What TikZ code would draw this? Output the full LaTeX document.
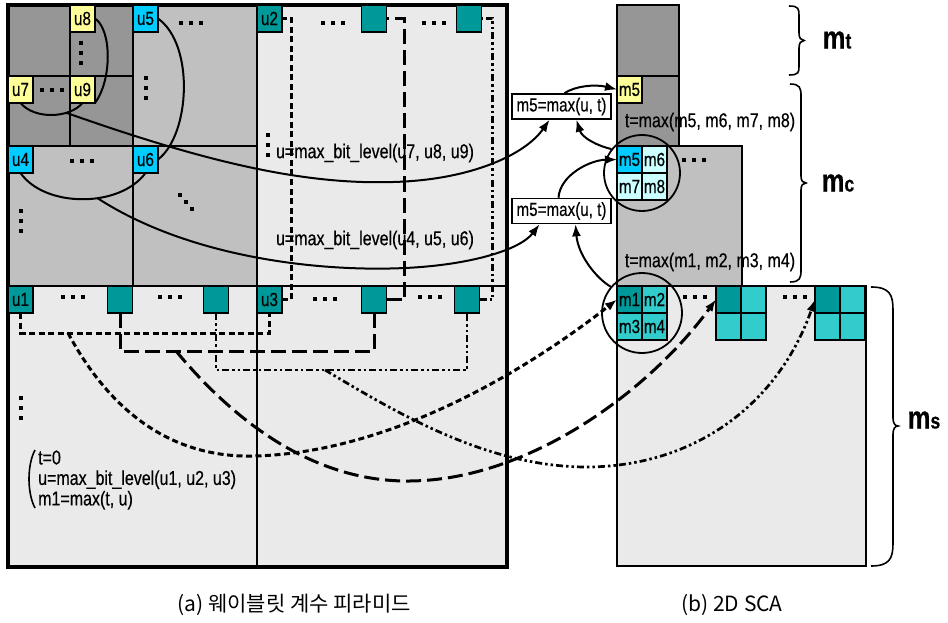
\documentclass[tikz,border=0pt]{standalone}
\usepackage{fontspec}
\setmainfont{Liberation Sans}[FakeStretch=0.8,FakeBold=0.4]
\newfontfamily\krfont{Noto Sans CJK KR}
\usetikzlibrary{arrows.meta,calc}
\definecolor{dg}{HTML}{969696}
\definecolor{lg}{HTML}{C0C0C0}
\definecolor{vlg}{HTML}{EAEAEA}
\definecolor{tealA}{HTML}{009999}
\definecolor{tealB}{HTML}{33CCCC}
\definecolor{cyA}{HTML}{00CCFF}
\definecolor{cyB}{HTML}{CCFFFF}
\definecolor{yl}{HTML}{FFFF99}
\begin{document}
\begin{tikzpicture}[x=1pt,y=-1pt,
  cell/.style={draw=black,line width=1.4pt,minimum width=25pt,minimum height=27pt,inner sep=0pt,outer sep=0pt,font=\fontsize{19}{19}\selectfont},
  ycell/.style={cell,fill=yl},
  ccell/.style={cell,fill=cyA},
  lccell/.style={cell,fill=cyB},
  tcell/.style={cell,fill=tealA},
  ltcell/.style={cell,fill=tealB},
  lbl/.style={font=\fontsize{20}{20.5}\selectfont,inner sep=0pt},
  boxst/.style={draw=black,fill=white,line width=1.6pt,minimum width=99pt,minimum height=25pt,inner sep=0pt,font=\fontsize{19}{19}\selectfont},
  ring/.style={draw=black,line width=1.8pt,circle,inner sep=0pt},
  gridln/.style={line width=2pt},
  sdash/.style={line width=3pt,dash pattern=on 6pt off 3.5pt},
  ldash/.style={line width=3pt,dash pattern=on 15pt off 6pt},
  ddash/.style={line width=2.7pt,dash pattern=on 7pt off 3pt on 2.5pt off 3pt on 2.5pt off 3pt},
  conn/.style={line width=2pt},
  arr/.style={-{Latex[length=12pt,width=9pt]}},
  bigl/.style={font=\fontsize{32}{32}\selectfont\bfseries,inner sep=0pt},
  hd/.pic={\foreach \i in {-10,0,10} \fill (\i-2.3,-2.3) rectangle ++(4.6,4.6);},
  vd/.pic={\foreach \i in {-10,0,10} \fill (-2.3,\i-2.3) rectangle ++(4.6,4.6);},
  dd/.pic={\foreach \i in {-10,0,10} \fill (\i*0.6-2.3,\i*0.7-2.3) rectangle ++(4.6,4.6);},
]
\useasboundingbox (0,0) rectangle (948,623);
% ---------- left pyramid ----------
\fill[vlg] (257,5) rectangle (507,567);
\fill[vlg] (8,286) rectangle (257,567);
\fill[lg] (8,5) rectangle (257,286);
\fill[dg] (8,5) rectangle (133,146);
\draw[gridln] (257,5) -- (257,567);
\draw[gridln] (8,286) -- (507,286);
\draw[gridln] (133,5) -- (133,286);
\draw[gridln] (8,146) -- (257,146);
\draw[gridln] (70,5) -- (70,146);
\draw[gridln] (8,76) -- (133,76);
\draw[line width=3.8pt] (8,5) rectangle (507,567);
% cells
\node[ycell] (u8) at (82.5,18.5) {u8};
\node[ycell] (u7) at (20.5,89.5) {u7};
\node[ycell] (u9) at (82.5,89.5) {u9};
\node[ccell] (u5) at (145.5,18.5) {u5};
\node[ccell] (u4) at (20.5,159.5) {u4};
\node[ccell] (u6) at (145.5,159.5) {u6};
\node[tcell] (u2) at (269.5,18.5) {u2};
\node[tcell] (t2) at (374,18.5) {};
\node[tcell] (t3) at (469,18.5) {};
\node[tcell] (u1) at (20.5,299.5) {u1};
\node[tcell] (b1) at (120,299.5) {};
\node[tcell] (b2) at (216,299.5) {};
\node[tcell] (u3) at (269.5,299.5) {u3};
\node[tcell] (b3) at (374,299.5) {};
\node[tcell] (b4) at (467,299.5) {};
% dots
\pic at (52,90) {hd};
\pic at (81,53) {vd};
\pic at (191,23) {hd};
\pic at (146,88) {vd};
\pic at (82,161) {hd};
\pic at (21,221) {vd};
\pic at (186,202) {dd};
\pic at (333,23) {hd};
\pic at (434,23) {hd};
\pic at (268,145) {vd};
\pic at (73,297) {hd};
\pic at (170,297) {hd};
\pic at (325,299) {hd};
\pic at (430,297) {hd};
\pic at (21,408) {vd};
% texts
\node[lbl] (tx1) at (375,153) {u=max\_bit\_level(u7, u8, u9)};
\node[lbl] (tx2) at (375,240) {u=max\_bit\_level(u4, u5, u6)};
\node[lbl,anchor=west,align=left] (tx5) at (38,480) {t=0\\u=max\_bit\_level(u1, u2, u3)\\m1=max(t, u)};
\draw[line width=1.6pt] (35,450) .. controls (27,465) and (27,493) .. (35,508);
% ---------- right SCA ----------
\filldraw[fill=dg,draw=black,line width=1.6pt] (617,5) rectangle (679,146);
\draw[line width=1.6pt] (617,76) -- (679,76);
\filldraw[fill=lg,draw=black,line width=1.6pt] (617,146) rectangle (742,286);
\filldraw[fill=vlg,draw=black,line width=1.6pt] (617,286) rectangle (866,566);
\node[ycell] (m5t) at (629.5,89.5) {m5};
\node[ccell] (m5c) at (629.5,159.5) {m5};
\node[lccell] (m6) at (654.5,159.5) {m6};
\node[lccell] (m7) at (629.5,186.5) {m7};
\node[lccell] (m8) at (654.5,186.5) {m8};
\node[tcell] (m1) at (629.5,299.5) {m1};
\node[ltcell] (m2) at (654.5,299.5) {m2};
\node[ltcell] (m3) at (629.5,326.5) {m3};
\node[ltcell] (m4) at (654.5,326.5) {m4};
\node[tcell] (g2a) at (728.5,299.5) {};
\node[ltcell] (g2b) at (753.5,299.5) {};
\node[ltcell] (g2c) at (728.5,326.5) {};
\node[ltcell] (g2d) at (753.5,326.5) {};
\node[tcell] (g3a) at (827.5,299.5) {};
\node[ltcell] (g3b) at (852.5,299.5) {};
\node[ltcell] (g3c) at (827.5,326.5) {};
\node[ltcell] (g3d) at (852.5,326.5) {};
\pic at (694,160) {hd};
\pic at (695,297) {hd};
\pic at (795,297) {hd};
\node[lbl] (tx3) at (710,122) {t=max(m5, m6, m7, m8)};
\node[lbl] (tx4) at (710,262) {t=max(m1, m2, m3, m4)};
\node[ring,minimum size=76pt] (c2) at (642,173) {};
\node[ring,minimum size=80pt] (c1) at (642,313) {};
\node[boxst] (box1) at (561.5,106.5) {m5=max(u, t)};
\node[boxst] (box2) at (561.5,211) {m5=max(u, t)};
% braces
\draw[line width=1.6pt] (789,6) .. controls (799,6) and (799,9) .. (799,16) -- (799,33) .. controls (799,38) and (801,40.5) .. (804,40.5) .. controls (801,40.5) and (799,43) .. (799,48) -- (799,66) .. controls (799,72) and (799,75) .. (789,75);
\draw[line width=1.6pt] (790,84) .. controls (800,84) and (801,88) .. (801,96) -- (801,176) .. controls (801,181) and (803,183) .. (806,183) .. controls (803,183) and (801,185) .. (801,190) -- (801,270) .. controls (801,278) and (800,282) .. (790,282);
\draw[line width=1.6pt] (871,287) .. controls (890,287) and (893,295) .. (893,310) -- (893,418) .. controls (893,423) and (895,426) .. (898,426) .. controls (895,426) and (893,429) .. (893,434) -- (893,543) .. controls (893,558) and (890,566) .. (871,566);
\node[bigl] (lmt) at (837,40) {m{\fontsize{22}{22}\selectfont t}};
\node[bigl] (lmc) at (838,183) {m{\fontsize{22}{22}\selectfont c}};
\node[bigl] (lms) at (924,420) {m{\fontsize{22}{22}\selectfont s}};
% captions
\node[font=\krfont\fontsize{21}{21}\selectfont] (capa) at (294,605) {(a) 웨이블릿 계수 피라미드};
\node[font=\krfont\fontsize{21}{21}\selectfont] (capb) at (732,605) {(b) 2D SCA};
% ---------- solid connectors ----------
\draw[conn] (u8.east) .. controls (112,30) and (112,80) .. (u9.south east);
\draw[conn] (u7.south) .. controls (35,120) and (70,118) .. (u9.south) coordinate[pos=0.7] (ca);
\draw[conn] (u5.east) .. controls (195,45) and (190,135) .. (u6.east);
\draw[conn] (u4.south) .. controls (45,208) and (120,208) .. (u6.south) coordinate[pos=0.6] (cb);
\draw[conn,arr] (ca) .. controls (200,160) and (300,185) .. (393,182) .. controls (470,180) and (525,155) .. ([xshift=-12pt]box1.south);
\draw[conn,arr] (cb) .. controls (190,258) and (320,272) .. (405,268) .. controls (470,265) and (520,250) .. ([xshift=-22pt]box2.south);
\draw[conn,arr] ([xshift=3pt]box1.north) .. controls (575,86) and (595,84) .. (m5t.west);
\draw[conn,arr] (c2.142) .. controls (598,146) and (582,138) .. ([xshift=15pt]box1.south);
\draw[conn,arr] ([xshift=-3pt]box2.north) .. controls (560,175) and (590,160) .. (m5c.west);
\draw[conn,arr] (c1.140) .. controls (596,278) and (578,255) .. ([xshift=14pt]box2.south);
% ---------- dashed connectors ----------
\draw[sdash] (u1.south) -- ++(0,20) -| (u3.south);
\draw[sdash] (u3.east) -- ++(9,0) |- (u2.east);
\draw[ldash] (b1.south) -- ++(0,38) -| (b3.south);
\draw[ldash] (b3.east) -- ++(18,0) |- (t2.east);
\draw[ddash] (b2.south) -- ++(0,57) -| (b4.south);
\draw[ddash] (b4.east) -- ++(13,0) |- (t3.east);
\coordinate (s1) at (68,333);
\coordinate (s2) at (176,351);
\coordinate (s3) at (325,370);
\draw[sdash,arr] (s1) .. controls (120,430) and (190,458) .. (255,456) .. controls (400,452) and (540,360) .. (m1.west);
\draw[ldash,arr] (s2) .. controls (250,440) and (330,482) .. (410,481) .. controls (530,480) and (650,390) .. (g2a.west);
\draw[ddash,arr] (s3) .. controls (400,415) and (490,468) .. (590,467) .. controls (700,465) and (780,400) .. (g3a.west);
\end{tikzpicture}
\end{document}
